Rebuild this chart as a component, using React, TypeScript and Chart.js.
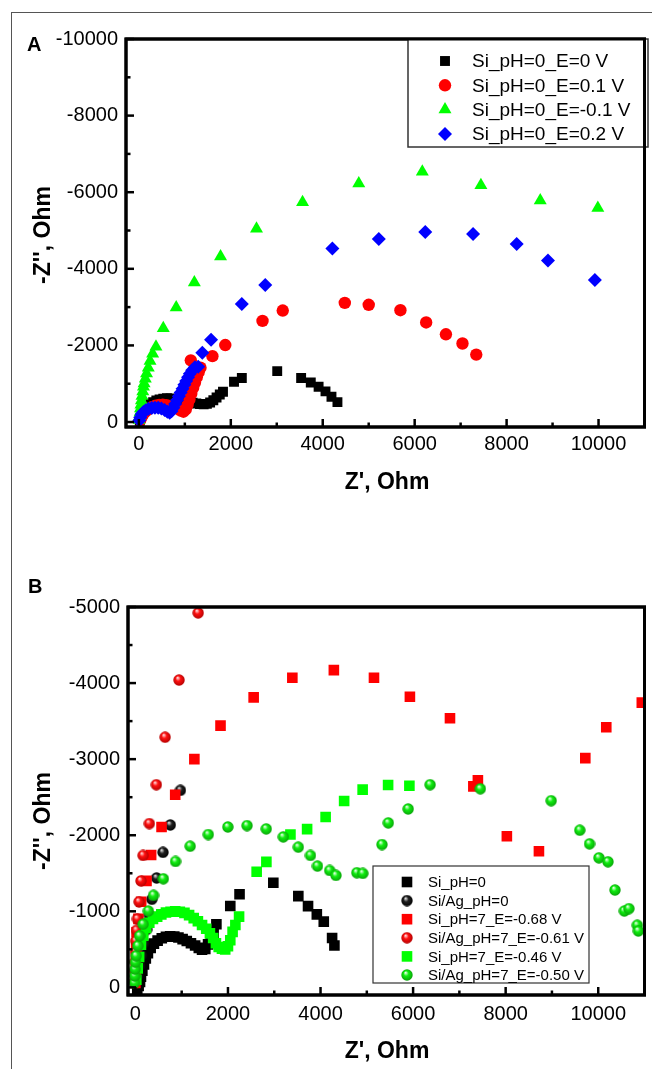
import React, { useEffect, useRef } from 'react';
import { Chart, registerables } from 'chart.js';

Chart.register(...registerables);

type P = [number, number];

const FONT = '"Liberation Sans", Arial, sans-serif';

// ---------------- Panel A data (Z', -Z'') ----------------
const aLabels = ['Si_pH=0_E=0 V', 'Si_pH=0_E=0.1 V', 'Si_pH=0_E=-0.1 V', 'Si_pH=0_E=0.2 V'];

const aE0: P[] = [
  [20, -30], [40, -110], [70, -190], [100, -270], [140, -340], [190, -410], [250, -470], [310, -520],
  [380, -560], [450, -590], [530, -610], [610, -620], [690, -615], [770, -605], [850, -590], [930, -570],
  [1010, -550], [1090, -525], [1170, -505], [1250, -485], [1330, -470], [1410, -465], [1480, -475],
  [1550, -510], [1620, -570], [1690, -640], [1760, -720], [1830, -790], [2070, -1050], [2240, -1150],
  [3010, -1330], [3530, -1150], [3740, -1030], [3910, -920], [4060, -800], [4190, -660], [4320, -520],
];

const aE01: P[] = [
  [30, -50], [60, -130], [100, -210], [150, -280], [210, -340], [280, -390], [360, -425], [440, -445],
  [520, -450], [600, -440], [680, -420], [760, -390], [840, -350], [910, -300], [970, -270], [1020, -330],
  [1060, -450], [1100, -590], [1140, -740], [1180, -890], [1220, -1030], [1260, -1170], [1300, -1300],
  [1340, -1420], [1130, -1610], [1600, -1720], [1880, -2010], [2690, -2640], [3130, -2910], [4480, -3110],
  [5000, -3060], [5690, -2920], [6250, -2600], [6680, -2290], [7040, -2050], [7340, -1760],
];

const aEm01: P[] = [
  [5, -50], [15, -150], [25, -250], [35, -350], [45, -450], [55, -560], [68, -680], [85, -800],
  [100, -920], [114, -1004], [140, -1130], [167, -1266], [205, -1420], [243, -1590], [300, -1780],
  [372, -1965], [531, -2446], [812, -2987], [1207, -3642], [1777, -4323], [2559, -5048], [3561, -5738],
  [4784, -6227], [6166, -6533], [7441, -6184], [8732, -5782], [9985, -5590],
];

const aE02: P[] = [
  [10, -40], [30, -120], [60, -200], [100, -260], [150, -310], [210, -345], [280, -365], [350, -375],
  [420, -370], [490, -350], [560, -315], [620, -270], [670, -240], [710, -280], [750, -370], [790, -470],
  [830, -570], [870, -670], [910, -770], [950, -870], [990, -970], [1030, -1070], [1070, -1170],
  [1110, -1260], [1160, -1350], [1220, -1430], [1290, -1440], [1380, -1810], [1570, -2150], [2240, -3080],
  [2750, -3580], [4210, -4530], [5220, -4780], [6230, -4960], [7270, -4910], [8220, -4650], [8900, -4220],
  [9920, -3710],
];

const aXTicks = [0, 2000, 4000, 6000, 8000, 10000];
const aYTicks = [0, -2000, -4000, -6000, -8000, -10000];

// ---------------- Panel B data (Z', -Z'') ----------------
const bLabels = [
  'Si_pH=0',
  'Si/Ag_pH=0',
  'Si_pH=7_E=-0.68 V',
  'Si/Ag_pH=7_E=-0.61 V',
  'Si_pH=7_E=-0.46 V',
  'Si/Ag_pH=7_E=-0.50 V',
];

const bSi0: P[] = [
  [40, 20], [70, -20], [100, -70], [120, -140], [150, -220], [185, -300], [225, -380], [270, -450],
  [330, -520], [400, -575], [480, -615], [570, -645], [660, -665], [750, -672], [840, -668], [930, -655],
  [1020, -635], [1110, -610], [1200, -580], [1290, -550], [1370, -520], [1440, -495], [1510, -505],
  [1570, -565], [1630, -640], [1690, -720], [1750, -830], [2050, -1070], [2250, -1225], [2980, -1375],
  [3520, -1200], [3730, -1068], [3920, -960], [4070, -865], [4250, -650], [4300, -550],
];

const bSiAg0: P[] = [
  [30, -50], [60, -150], [100, -280], [140, -420], [190, -580], [240, -760], [303, -945], [355, -1158],
  [458, -1438], [595, -1775], [754, -2135], [972, -2590],
];

const bSiE068: P[] = [
  [0, -60], [5, -180], [8, -300], [10, -420], [15, -570], [25, -725], [65, -900], [125, -1125],
  [240, -1400], [340, -1740], [565, -2109], [860, -2533], [1274, -3000], [1839, -3441], [2555, -3812],
  [3391, -4070], [4288, -4170], [5155, -4070], [5931, -3821], [6797, -3537], [7302, -2642], [7400, -2721],
  [8026, -1987], [8719, -1790], [9721, -3013], [10174, -3419], [10942, -3743],
];

const bSiAgE061: P[] = [
  [-10, -90], [-5, -210], [0, -340], [5, -470], [10, -610], [25, -750], [45, -900], [80, -1125],
  [120, -1400], [166, -1734], [301, -2153], [452, -2664], [641, -3288], [942, -4040], [1356, -4922],
];

const bSiE046: P[] = [
  [20, -100], [50, -250], [80, -400], [120, -560], [170, -680], [230, -780], [300, -850], [380, -900],
  [470, -930], [560, -960], [660, -985], [760, -995], [860, -1000], [960, -995], [1060, -980], [1160, -950],
  [1260, -910], [1350, -870], [1440, -820], [1530, -770], [1610, -710], [1680, -650], [1740, -580],
  [1800, -530], [1870, -510], [1940, -500], [2000, -540], [2050, -620], [2100, -730], [2160, -820],
  [2240, -930], [2620, -1520], [2830, -1650], [3350, -2010], [3710, -2080], [4110, -2240], [4510, -2450],
  [4910, -2600], [5460, -2660], [5920, -2650],
];

const bSiAgE050: P[] = [
  [-20, -60], [-15, -150], [-10, -240], [0, -330], [15, -415], [53, -546], [90, -677], [166, -830],
  [279, -1004], [392, -1210], [603, -1428], [867, -1655], [1183, -1856], [1575, -2009], [1997, -2109],
  [2412, -2127], [2826, -2083], [3195, -1978], [3519, -1843], [3783, -1734], [3934, -1594], [4197, -1537],
  [4333, -1472], [4785, -1507], [4913, -1498], [5328, -1878], [5464, -2162], [5893, -2345], [6368, -2664],
  [7453, -2611], [8983, -2454], [9601, -2066], [9812, -1887], [10015, -1703], [10211, -1651],
  [10362, -1280], [10565, -1004], [10663, -1035], [10844, -817], [10867, -742],
];

const bXTicks = [0, 2000, 4000, 6000, 8000, 10000];
const bYTicks = [0, -1000, -2000, -3000, -4000, -5000];

// ---------------- helpers ----------------
function makeSphere(base: string, hi: string, dark: string, d: number): HTMLCanvasElement {
  const c = document.createElement('canvas');
  c.width = d;
  c.height = d;
  const g = c.getContext('2d')!;
  const r = d / 2;
  const grad = g.createRadialGradient(r * 0.75, r * 0.6, r * 0.05, r, r, r);
  grad.addColorStop(0, hi);
  grad.addColorStop(0.4, base);
  grad.addColorStop(1, dark);
  g.fillStyle = grad;
  g.beginPath();
  g.arc(r, r, r - 0.3, 0, Math.PI * 2);
  g.fill();
  return c;
}

function drawMarker(ctx: CanvasRenderingContext2D, style: any, r: number, color: string, x: number, y: number) {
  if (style && typeof style === 'object') {
    ctx.drawImage(style, x - style.width / 2, y - style.height / 2);
    return;
  }
  ctx.fillStyle = color;
  ctx.beginPath();
  if (style === 'rect') {
    const s = Math.SQRT1_2 * r;
    ctx.rect(x - s, y - s, 2 * s, 2 * s);
  } else if (style === 'circle') {
    ctx.arc(x, y, r, 0, Math.PI * 2);
  } else if (style === 'triangle') {
    let a = 0;
    ctx.moveTo(x + Math.sin(a) * r, y - Math.cos(a) * r);
    a += (2 * Math.PI) / 3;
    ctx.lineTo(x + Math.sin(a) * r, y - Math.cos(a) * r);
    a += (2 * Math.PI) / 3;
    ctx.lineTo(x + Math.sin(a) * r, y - Math.cos(a) * r);
    ctx.closePath();
  } else if (style === 'rectRot') {
    ctx.moveTo(x - r, y);
    ctx.lineTo(x, y - r);
    ctx.lineTo(x + r, y);
    ctx.lineTo(x, y + r);
    ctx.closePath();
  }
  ctx.fill();
}

function minorsOf(majors: number[], min: number, max: number): number[] {
  const s = [...majors].sort((p, q) => p - q);
  const step = s[1] - s[0];
  const out: number[] = [];
  for (let v = s[0] - step / 2; v <= max; v += step) {
    if (v > Math.min(min, max) && v < Math.max(min, max)) out.push(v);
  }
  return out;
}

const decoPlugin = {
  id: 'deco',
  afterDatasetsDraw(chart: any, _args: any, opts: any) {
    const { ctx, chartArea: ca, scales } = chart;
    const xs = scales.x;
    const ys = scales.y;
    ctx.save();
    ctx.strokeStyle = '#000';
    ctx.lineCap = 'butt';
    // inward ticks
    ctx.lineWidth = 2.5;
    const tick = (px: number, horizontal: boolean, len: number) => {
      ctx.beginPath();
      if (horizontal) {
        ctx.moveTo(px, ca.bottom);
        ctx.lineTo(px, ca.bottom - len);
      } else {
        ctx.moveTo(ca.left, px);
        ctx.lineTo(ca.left + len, px);
      }
      ctx.stroke();
    };
    const xm: number[] = opts.xMajor;
    const ym: number[] = opts.yMajor;
    xm.forEach((v) => tick(xs.getPixelForValue(v), true, 8));
    minorsOf(xm, xs.min, xs.max).forEach((v) => tick(xs.getPixelForValue(v), true, 4.5));
    ym.forEach((v) => tick(ys.getPixelForValue(v), false, 8));
    minorsOf(ym, ys.min, ys.max).forEach((v) => tick(ys.getPixelForValue(v), false, 4.5));
    // frame
    ctx.lineWidth = 3;
    ctx.strokeRect(ca.left, ca.top, ca.right - ca.left, ca.bottom - ca.top);
    // legend
    const lg = opts.legend;
    ctx.fillStyle = '#fff';
    ctx.fillRect(lg.left, lg.top, lg.right - lg.left, lg.bottom - lg.top);
    ctx.lineWidth = lg.lineWidth;
    ctx.strokeStyle = '#333';
    ctx.strokeRect(lg.left, lg.top, lg.right - lg.left, lg.bottom - lg.top);
    ctx.font = `${lg.fontSize}px ${FONT}`;
    ctx.textBaseline = 'middle';
    ctx.textAlign = 'left';
    chart.data.datasets.forEach((ds: any, i: number) => {
      const y = lg.rowStart + i * lg.rowGap;
      drawMarker(ctx, ds.pointStyle, ds.pointRadius, ds.pointBackgroundColor, lg.markerX, y);
      ctx.fillStyle = '#000';
      ctx.fillText(ds.label, lg.textX, y + 1);
    });
    ctx.restore();
    // redraw frame on top of legend edge
    ctx.save();
    ctx.strokeStyle = '#000';
    ctx.lineWidth = 3;
    ctx.strokeRect(ca.left, ca.top, ca.right - ca.left, ca.bottom - ca.top);
    ctx.restore();
  },
};

function axis(min: number, max: number, ticks: number[], reverse: boolean, padding: number, fit: number, horizontal: boolean) {
  return {
    type: 'linear',
    min,
    max,
    reverse,
    grid: { display: false, drawTicks: false },
    border: { display: false },
    ticks: {
      color: '#000',
      font: { size: 20, family: FONT },
      padding,
      autoSkip: false,
      maxRotation: 0,
      includeBounds: false,
      callback: (v: any) => String(v),
    },
    afterBuildTicks: (s: any) => {
      s.ticks = ticks.map((v) => ({ value: v }));
    },
    afterFit: (s: any) => {
      if (horizontal) s.height = fit;
      else s.width = fit;
    },
  };
}

function ds(label: string, data: P[], style: any, r: number, color: string, order: number) {
  return {
    label,
    data: data.map(([x, y]) => ({ x, y })),
    pointStyle: style,
    pointRadius: r,
    pointBackgroundColor: color,
    pointBorderColor: color,
    pointBorderWidth: 0,
    showLine: false,
    order,
  };
}

export default function App() {
  const refA = useRef<HTMLCanvasElement>(null);
  const refB = useRef<HTMLCanvasElement>(null);

  useEffect(() => {
    const blackBall = makeSphere('#202020', '#e0e0e0', '#000000', 12);
    const redBall = makeSphere('#ff1010', '#ffe0e0', '#b00000', 12);
    const greenBall = makeSphere('#10ee10', '#eaffea', '#08a008', 12);

    const chartA = new Chart(refA.current as HTMLCanvasElement, {
      type: 'scatter',
      data: {
        datasets: [
          ds(aLabels[0], aE0, 'rect', 7, '#000000', 4),
          ds(aLabels[1], aE01, 'circle', 6.2, '#ff0000', 3),
          ds(aLabels[2], aEm01, 'triangle', 7.5, '#00ff00', 2),
          ds(aLabels[3], aE02, 'rectRot', 7, '#0000ff', 1),
        ],
      } as any,
      options: {
        responsive: false,
        animation: false,
        events: [],
        layout: { padding: { left: 0, right: 4, top: 39, bottom: 0 } },
        scales: {
          x: axis(-280, 11000, aXTicks, false, 5, 73, true),
          y: axis(-10000, 130, aYTicks, true, 8, 126, false),
        } as any,
        plugins: {
          legend: { display: false },
          tooltip: { enabled: false },
          deco: {
            xMajor: aXTicks,
            yMajor: aYTicks,
            legend: {
              left: 408, top: 39, right: 648, bottom: 147,
              rowStart: 61, rowGap: 24.3, markerX: 445, textX: 472, fontSize: 19, lineWidth: 1.5,
            },
          },
        } as any,
      },
      plugins: [decoPlugin as any],
    });

    const chartB = new Chart(refB.current as HTMLCanvasElement, {
      type: 'scatter',
      data: {
        datasets: [
          ds(bLabels[0], bSi0, 'rect', 7.5, '#000000', 6),
          ds(bLabels[1], bSiAg0, blackBall, 6, '#000000', 5),
          ds(bLabels[2], bSiE068, 'rect', 7.5, '#ff0000', 4),
          ds(bLabels[3], bSiAgE061, redBall, 6, '#ff0000', 3),
          ds(bLabels[4], bSiE046, 'rect', 7.5, '#00ff00', 2),
          ds(bLabels[5], bSiAgE050, greenBall, 6, '#00ff00', 1),
        ],
      } as any,
      options: {
        responsive: false,
        animation: false,
        events: [],
        layout: { padding: { left: 0, right: 4, top: 87, bottom: 0 } },
        scales: {
          x: axis(-160, 11000, bXTicks, false, 7, 74, true),
          y: axis(-5000, 100, bYTicks, true, 8, 128, false),
        } as any,
        plugins: {
          legend: { display: false },
          tooltip: { enabled: false },
          deco: {
            xMajor: bXTicks,
            yMajor: bYTicks,
            legend: {
              left: 373, top: 346, right: 589, bottom: 463,
              rowStart: 362, rowGap: 18.6, markerX: 407, textX: 428, fontSize: 15, lineWidth: 1.2,
            },
          },
        } as any,
      },
      plugins: [decoPlugin as any],
    });

    return () => {
      chartA.destroy();
      chartB.destroy();
    };
  }, []);

  const titleStyle: React.CSSProperties = {
    position: 'absolute',
    fontFamily: FONT,
    fontWeight: 'bold',
    fontSize: 23,
    color: '#000',
    whiteSpace: 'nowrap',
    lineHeight: 1,
  };

  return (
    <div style={{ position: 'fixed', left: 0, top: 0, width: 652, height: 1069, background: '#fff', overflow: 'hidden' }}>
      <div style={{ position: 'absolute', left: 11, top: 12, width: 700, height: 1100, borderLeft: '1px solid #555', borderTop: '1px solid #555' }} />
      <canvas ref={refA} width={652} height={500} style={{ position: 'absolute', left: 0, top: 0, display: 'block' }} />
      <canvas ref={refB} width={652} height={549} style={{ position: 'absolute', left: 0, top: 520, display: 'block' }} />
      <div style={{ ...titleStyle, fontSize: 20, left: 27, top: 34 }}>A</div>
      <div style={{ ...titleStyle, fontSize: 20, left: 28, top: 576 }}>B</div>
      <div style={{ ...titleStyle, left: 42, top: 235, transform: 'translate(-50%, -50%) rotate(-90deg)' }}>-Z'', Ohm</div>
      <div style={{ ...titleStyle, left: 387, top: 481, transform: 'translate(-50%, -50%)' }}>Z', Ohm</div>
      <div style={{ ...titleStyle, left: 42, top: 821, transform: 'translate(-50%, -50%) rotate(-90deg)' }}>-Z'', Ohm</div>
      <div style={{ ...titleStyle, left: 387, top: 1050, transform: 'translate(-50%, -50%)' }}>Z', Ohm</div>
    </div>
  );
}
